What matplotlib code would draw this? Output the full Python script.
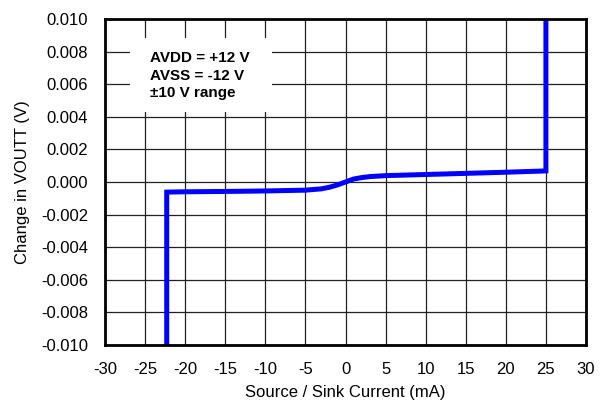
import matplotlib
matplotlib.use("Agg")
import matplotlib.pyplot as plt
from matplotlib.patches import Rectangle

plt.rcParams['font.family'] = ['Liberation Sans', 'DejaVu Sans']

current_ma = [-22.3, -22.3, -20, -15, -10, -5, -3, -2, -1, 0, 1, 2, 3, 5, 10, 15, 20, 25, 25]
delta_v = [-0.010, -0.00062, -0.0006, -0.00058, -0.00055, -0.0005, -0.00042, -0.00032,
           -0.00018, 0.0, 0.00018, 0.00027, 0.00033, 0.00039, 0.00046, 0.00053, 0.0006,
           0.00068, 0.010]
x_ticks = [-30, -25, -20, -15, -10, -5, 0, 5, 10, 15, 20, 25, 30]
y_ticks = [-0.010, -0.008, -0.006, -0.004, -0.002, 0.000, 0.002, 0.004, 0.006, 0.008, 0.010]
annotation = "AVDD = +12 V\nAVSS = -12 V\n±10 V range"

fig = plt.figure(figsize=(6.05, 4.04), dpi=100)
ax = fig.add_axes([105/605, 1-345/404, 481/605, 326/404])

ax.plot(current_ma, delta_v, color='#0000ff', lw=3.6, zorder=4, solid_joinstyle='miter')
ax.set_xlim(-30, 30)
ax.set_ylim(-0.010, 0.010)
ax.set_xticks(x_ticks)
ax.set_yticks(y_ticks)
ax.set_xticklabels([str(v) for v in x_ticks])
ax.set_yticklabels([f"{v:.3f}" for v in y_ticks])
ax.tick_params(length=0, labelsize=12, pad=12)
ax.grid(True, color='#222222', lw=0.9)
ax.set_axisbelow(True)
for s in ax.spines.values():
    s.set_linewidth(2)
    s.set_color('black')
    s.set_zorder(5)

ax.add_patch(Rectangle((-26.9, 0.0043), 17.7, 0.00453, facecolor='white',
                       edgecolor='none', zorder=2))
ax.text(-24.4, 0.00652, annotation, fontsize=11, fontweight='bold',
        va='center', ha='left', linespacing=1.3, zorder=3)

ax.set_xlabel("Source / Sink Current (mA)", fontsize=12, labelpad=6)
ax.set_ylabel("Change in VOUTT (V)", fontsize=12, labelpad=8)

fig.savefig("out.png", dpi=100)
